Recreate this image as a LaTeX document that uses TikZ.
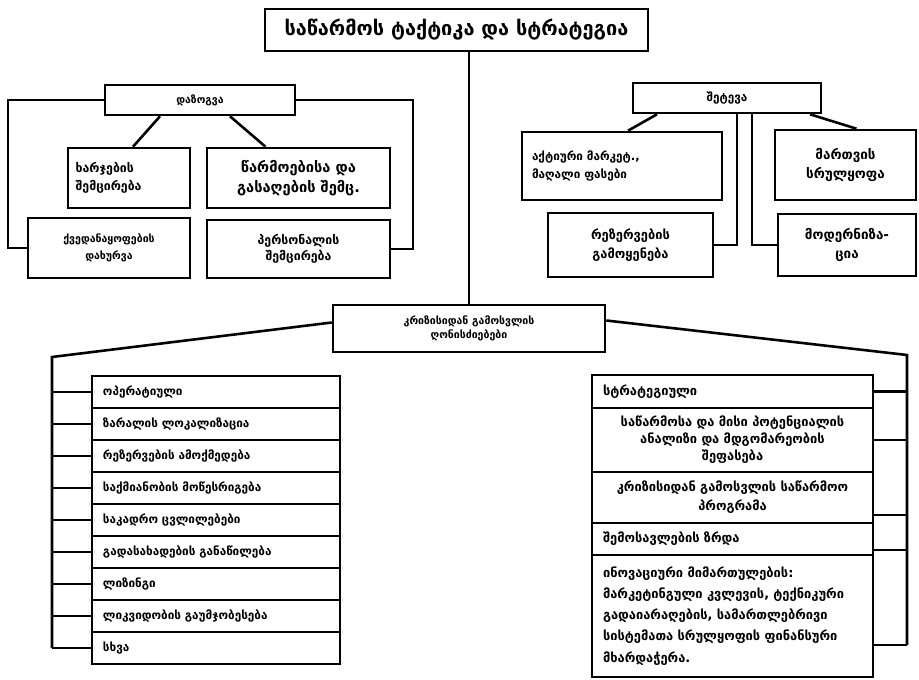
\documentclass[tikz,border=0pt]{standalone}
\usepackage{fontspec}
\setmainfont{DejaVu Sans}
\usetikzlibrary{calc}

\begin{document}
\begin{tikzpicture}[x=0.03cm,y=-0.03cm,line width=2.2pt,
  bx/.style={draw,inner sep=2pt,align=center,font=\bfseries\fontsize{10}{13}\selectfont},
  lrow/.style={draw,minimum width=7.44cm,minimum height=0.96cm,inner xsep=0.33cm,
    text width=6.78cm,align=left,font=\bfseries\fontsize{10}{12}\selectfont},
  rrow/.style={draw,minimum width=8.43cm,inner xsep=0.33cm,text width=7.77cm,
    font=\bfseries\fontsize{11}{16}\selectfont}]
  \useasboundingbox (0,0) rectangle (919,680);

  % title and centre
  \node[bx,minimum width=11.49cm,minimum height=1.26cm,font=\bfseries\fontsize{17}{20}\selectfont] (title) at (456.5,30) {საწარმოს ტაქტიკა და სტრატეგია};
  \node[bx,minimum width=8.16cm,minimum height=1.41cm,font=\bfseries\fontsize{9}{12}\selectfont] (mid) at (469,328.5) {კრიზისიდან გამოსვლის\\ღონისძიებები};
  \draw (mid.north) -- (mid.north |- title.south);

  % left group
  \node[bx,minimum width=5.7cm,minimum height=0.9cm,font=\bfseries\fontsize{9}{11}\selectfont] (zog) at (200,100) {დაზოგვა};
  \node[bx,minimum width=3.66cm,minimum height=1.8cm,text width=3.2cm,align=left,font=\bfseries\fontsize{10.5}{15}\selectfont] (b1) at (129,178) {ხარჯების\\შემცირება};
  \node[bx,minimum width=5.49cm,minimum height=1.8cm,font=\bfseries\fontsize{12.5}{17}\selectfont] (b2) at (298.5,178) {წარმოებისა და\\გასაღების შემც.};
  \node[bx,minimum width=4.86cm,minimum height=1.8cm,font=\bfseries\fontsize{9}{14}\selectfont] (b3) at (109,248) {ქვედანაყოფების\\დახურვა};
  \node[bx,minimum width=5.49cm,minimum height=1.74cm,font=\bfseries\fontsize{10.5}{14}\selectfont] (b4) at (298.5,249) {პერსონალის\\შემცირება};
  \coordinate (zl) at (8,101);
  \coordinate (zr) at (413,101);
  \draw (zog.west) -- (zog.west -| zl) |- (b3.west);
  \draw (zog.east) -- (zog.east -| zr) |- (b4.east);
  \draw ($(zog.south)+(-40,0)$) -- ($(b1.north)+(4,0)$);
  \draw ($(zog.south)+(30,0)$) -- ($(b2.north)+(-33,0)$);

  % right group
  \node[bx,minimum width=5.64cm,minimum height=0.9cm,font=\bfseries\fontsize{10}{12}\selectfont] (atk) at (727,98) {შეტევა};
  \node[bx,minimum width=6cm,minimum height=2.04cm,text width=5.4cm,align=left,font=\bfseries\fontsize{10}{15}\selectfont] (c1) at (622,166) {აქტიური მარკეტ.,\\მაღალი ფასები};
  \node[bx,minimum width=4.23cm,minimum height=2.1cm,font=\bfseries\fontsize{11.5}{17}\selectfont] (c2) at (845.5,165) {მართვის\\სრულყოფა};
  \node[bx,minimum width=4.95cm,minimum height=1.92cm,font=\bfseries\fontsize{11}{16}\selectfont] (c3) at (630.5,245) {რეზერვების\\გამოყენება};
  \node[bx,minimum width=4.14cm,minimum height=1.86cm,font=\bfseries\fontsize{11.5}{17}\selectfont] (c4) at (847,245) {მოდერნიზა-\\ცია};
  \draw ($(atk.south)+(-70,0)$) -- ($(c1.north)+(6,0)$);
  \draw ($(atk.south)+(83,0)$) -- ($(c2.north)+(11,0)$);
  \draw ($(atk.south)+(10,0)$) |- (c3.east);
  \draw ($(atk.south)+(25,0)$) |- (c4.west);

  % operative list
  \foreach \t [count=\i] in {ოპერატიული,ზარალის ლოკალიზაცია,რეზერვების ამოქმედება,
      საქმიანობის მოწესრიგება,საკადრო ცვლილებები,გადასახადების განაწილება,
      ლიზინგი,ლიკვიდობის გაუმჯობესება,სხვა}
    \node[lrow] (l\i) at (216,360+32*\i) {\t};
  \coordinate (ll) at (52,357);
  \draw ($(mid.west)+(0,-6)$) -- (ll) -- (ll |- l9.west);
  \foreach \i in {1,...,9}
    \draw (l\i.west) -- (l\i.west -| ll);

  % strategic list
  \node[rrow,minimum height=0.99cm,align=left] (r1) at (732.5,391.5) {სტრატეგიული};
  \node[rrow,minimum height=1.92cm,align=center,font=\bfseries\fontsize{11}{14.5}\selectfont] (r2) at (732.5,440) {საწარმოსა და მისი პოტენციალის\\ანალიზი და მდგომარეობის\\შეფასება};
  \node[rrow,minimum height=1.53cm,align=center] (r3) at (732.5,497.5) {კრიზისიდან გამოსვლის საწარმოო\\პროგრამა};
  \node[rrow,minimum height=0.96cm,align=left] (r4) at (732.5,539) {შემოსავლების ზრდა};
  \node[rrow,minimum height=3.66cm,align=left,font=\bfseries\fontsize{11}{18}\selectfont] (r5) at (732.5,616) {ინოვაციური მიმართულების:\\მარკეტინგული კვლევის, ტექნიკური\\გადაიარაღების, სამართლებრივი\\სისტემათა სრულყოფის ფინანსური\\მხარდაჭერა.};
  \coordinate (rr) at (907,355);
  \coordinate (t3) at ($(r3.east)+(0,17.5)$);
  \coordinate (t4) at ($(r4.east)+(0,11)$);
  \coordinate (t5) at ($(r5.east)+(0,29)$);
  \draw ($(mid.east)+(0,-8)$) -- (rr) -- (rr |- t5);
  \draw (r1.east) -- (r1.east -| rr);
  \draw (r2.east) -- (r2.east -| rr);
  \draw (t3) -- (t3 -| rr);
  \draw (t4) -- (t4 -| rr);
  \draw (t5) -- (t5 -| rr);
\end{tikzpicture}
\end{document}
